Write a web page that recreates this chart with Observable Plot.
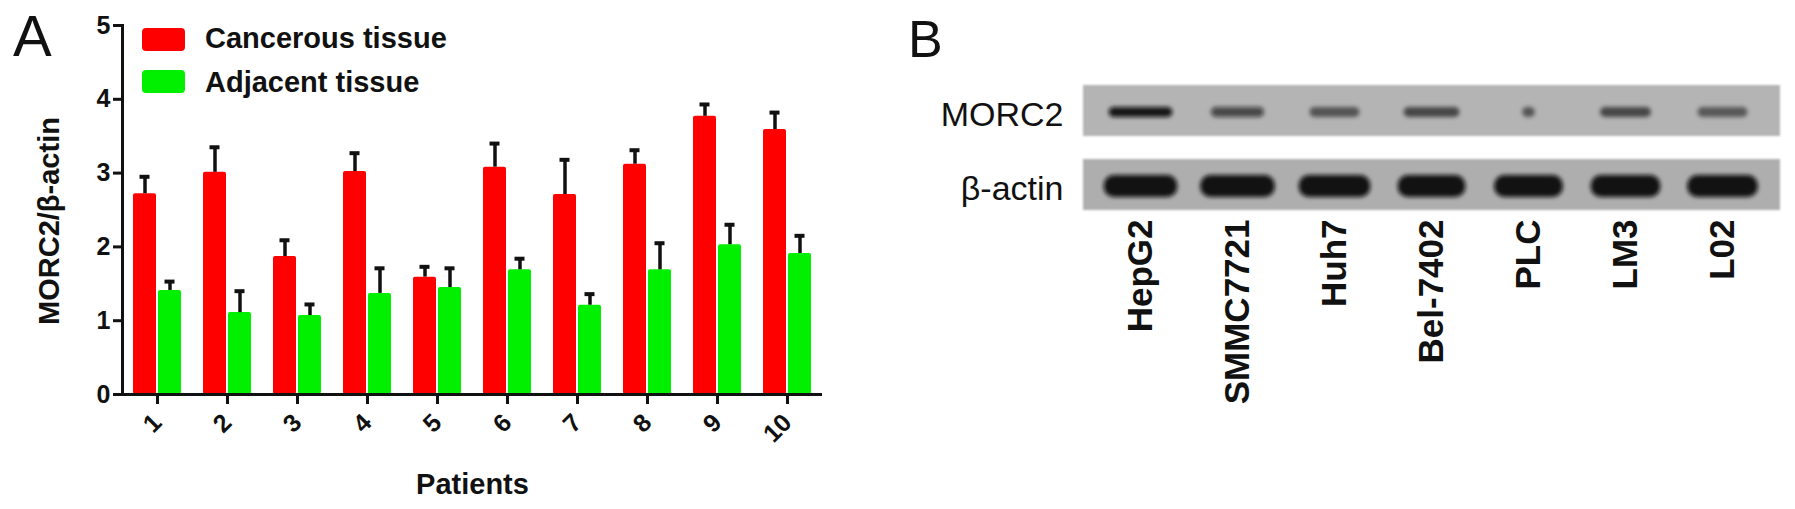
<!DOCTYPE html>
<html>
<head>
<meta charset="utf-8">
<script src="https://cdn.jsdelivr.net/npm/d3@7"></script>
<script src="https://cdn.jsdelivr.net/npm/@observablehq/plot@0.6"></script>
<style>
  html, body { margin: 0; padding: 0; background: #ffffff; }
  #wrap { position: relative; width: 1795px; height: 509px; overflow: hidden; background: #ffffff;
          font-family: "Liberation Sans", Arial, sans-serif; color: #111; }
  .panel { position: absolute; top: 0; }
  .abs { position: absolute; line-height: 1; white-space: nowrap; }
  .swatch { position: absolute; width: 43px; height: 23px; border-radius: 4px; }
</style>
</head>
<body>
<div id="wrap"></div>
<script>
// ---------------- Panel A data ----------------
const patients = ["1", "2", "3", "4", "5", "6", "7", "8", "9", "10"];
const cancerous    = [2.72, 3.01, 1.87, 3.02, 1.59, 3.08, 2.71, 3.12, 3.77, 3.59];
const cancerousErr = [0.23, 0.34, 0.22, 0.25, 0.14, 0.32, 0.47, 0.19, 0.16, 0.23];
const adjacent     = [1.41, 1.11, 1.07, 1.37, 1.45, 1.69, 1.21, 1.69, 2.03, 1.91];
const adjacentErr  = [0.12, 0.29, 0.15, 0.34, 0.26, 0.15, 0.15, 0.36, 0.27, 0.24];
const seriesNames  = ["Cancerous tissue", "Adjacent tissue"];
const yTicks       = [0, 1, 2, 3, 4, 5];
const yLabel       = "MORC2/β-actin";
const xLabel       = "Patients";

// ---------------- Panel B data ----------------
const cellLines    = ["HepG2", "SMMC7721", "Huh7", "Bel-7402", "PLC", "LM3", "L02"];
const proteins     = ["MORC2", "β-actin"];
const morc2Signal  = [1.00, 0.62, 0.45, 0.55, 0.45, 0.55, 0.42];   // relative band darkness
const morc2Extent  = [0.66, 0.55, 0.52, 0.58, 0.14, 0.53, 0.52];   // band extent (fraction of lane)
const actinSignal  = [1.00, 1.00, 1.00, 1.00, 1.00, 1.00, 1.00];
const actinExtent  = [0.76, 0.77, 0.74, 0.70, 0.71, 0.72, 0.73];

const colors = { cancer: "#ff0000", adjacent: "#00f000", ink: "#111111" };
const FONT = "Liberation Sans, Arial, sans-serif";

const wrap = document.getElementById("wrap");

// ---------------- Panel A ----------------
const rows = patients.map((p, i) => ({
  patient: p,
  cancer: cancerous[i], cancerErr: cancerousErr[i],
  adj: adjacent[i], adjErr: adjacentErr[i]
}));

const plotA = Plot.plot({
  width: 880, height: 509,
  marginLeft: 122, marginRight: 58, marginTop: 25, marginBottom: 115,
  style: { fontFamily: FONT, color: colors.ink, background: "transparent", overflow: "visible" },
  x: { domain: patients, padding: 0, axis: null },
  y: { domain: [0, 5], axis: null },
  marks: [
    Plot.barY(rows, { x: "patient", y: "cancer", fill: colors.cancer, insetLeft: 11, insetRight: 36, rx: 2 }),
    Plot.barY(rows, { x: "patient", y: "adj", fill: colors.adjacent, insetLeft: 36, insetRight: 11, rx: 2 }),
    Plot.ruleX(rows, { x: "patient", y1: "cancer", y2: d => d.cancer + d.cancerErr, dx: -12.5, stroke: colors.ink, strokeWidth: 3.5 }),
    Plot.ruleX(rows, { x: "patient", y1: "adj", y2: d => d.adj + d.adjErr, dx: 12.5, stroke: colors.ink, strokeWidth: 3.5 }),
    Plot.tickY(rows, { x: "patient", y: d => d.cancer + d.cancerErr, insetLeft: 17.5, insetRight: 42.5, stroke: colors.ink, strokeWidth: 4 }),
    Plot.tickY(rows, { x: "patient", y: d => d.adj + d.adjErr, insetLeft: 42.5, insetRight: 17.5, stroke: colors.ink, strokeWidth: 4 }),
    Plot.ruleY([0], { stroke: colors.ink, strokeWidth: 3 }),
    Plot.frame({ anchor: "left", stroke: colors.ink, strokeWidth: 3 }),
    Plot.axisY({ ticks: yTicks, tickFormat: d => String(d), tickSize: 9, tickPadding: 3, fontSize: 25, fontWeight: "bold", strokeWidth: 3, label: null }),
    Plot.axisX({ tickSize: 10, tickRotate: -45, tickPadding: 14, textAnchor: "end", lineAnchor: "middle",
                 fontSize: 25, fontWeight: "bold", strokeWidth: 3, label: null }),
    Plot.text([yLabel], { text: d => d, frameAnchor: "left", textAnchor: "middle", lineAnchor: "middle", rotate: -90, dx: -73, dy: 11, fontSize: 29, fontWeight: "bold" }),
    Plot.text([xLabel], { text: d => d, frameAnchor: "bottom", textAnchor: "middle", dy: 99, fontSize: 29, fontWeight: "bold" })
  ]
});
plotA.classList.add("panel");
plotA.style.left = "0px";
wrap.appendChild(plotA);

// legend (HTML overlay)
const legendColors = [colors.cancer, colors.adjacent];
seriesNames.forEach((name, i) => {
  const sw = document.createElement("div");
  sw.className = "swatch";
  sw.style.left = "142px";
  sw.style.top = (28 + i * 42) + "px";
  sw.style.background = legendColors[i];
  wrap.appendChild(sw);
  const t = document.createElement("div");
  t.className = "abs";
  t.textContent = name;
  t.style.left = "205px";
  t.style.top = (24 + i * 44) + "px";
  t.style.fontSize = "29px";
  t.style.fontWeight = "bold";
  wrap.appendChild(t);
});

// ---------------- Panel B ----------------
const lanes = cellLines.flatMap((c, i) => [
  { line: c, protein: proteins[0], signal: morc2Signal[i], extent: morc2Extent[i] },
  { line: c, protein: proteins[1], signal: actinSignal[i], extent: actinExtent[i] }
]);
const LANE = 98; // lane step in px (from the x scale setup below)

const bandMarks = lanes.map(d => {
  const isMorc = d.protein === proteins[0];
  const side = LANE * (1 - d.extent) / 2;
  return Plot.cell([d], {
    x: "line", y: "protein",
    fill: "#0a0a0a",
    fillOpacity: isMorc ? 0.2 + 0.75 * d.signal : 0.97,
    insetLeft: side, insetRight: side,
    insetTop: isMorc ? 21 : 15, insetBottom: isMorc ? 20 : 14,
    rx: isMorc ? 5 : 10,
    dy: 1,
    ariaDescription: "band"
  });
});

const plotB = Plot.plot({
  width: 915, height: 509,
  marginLeft: 200, marginRight: 12, marginTop: 85, marginBottom: 299,
  style: { fontFamily: FONT, color: colors.ink, background: "transparent", overflow: "visible" },
  x: { domain: cellLines, paddingInner: 0, paddingOuter: 0.087, axis: null },
  y: { domain: proteins, paddingInner: 0.311, paddingOuter: 0, axis: null },
  marks: [
    Plot.cell(lanes.filter(d => d.protein === proteins[0]), { x: "line", y: "protein", fill: "#b4b4b4", insetLeft: -9, insetRight: -9, ariaDescription: "membrane" }),
    Plot.cell(lanes.filter(d => d.protein === proteins[1]), { x: "line", y: "protein", fill: "#aeaeae", insetLeft: -9, insetRight: -9, ariaDescription: "membrane" }),
    ...bandMarks,
    Plot.axisY({ anchor: "left", tickSize: 0, tickPadding: 17, dy: 4, fontSize: 34, label: null }),
    Plot.text(cellLines, { x: d => d, text: d => d, frameAnchor: "bottom", rotate: -90, textAnchor: "end", lineAnchor: "middle",
                           dy: 9, fontSize: 35, fontWeight: "bold" })
  ]
});
plotB.classList.add("panel");
plotB.style.left = "880px";
wrap.appendChild(plotB);

// soft edges for blot bands (SVG filter)
const svgB = d3.select(plotB);
const defs = svgB.insert("defs", ":first-child");
defs.append("filter").attr("id", "softBand").attr("x", "-30%").attr("y", "-100%").attr("width", "160%").attr("height", "300%")
  .append("feGaussianBlur").attr("stdDeviation", 2);
defs.append("filter").attr("id", "softEdge").attr("x", "-5%").attr("y", "-20%").attr("width", "110%").attr("height", "140%")
  .append("feGaussianBlur").attr("stdDeviation", 0.8);
svgB.selectAll("g[aria-description=band]").attr("filter", "url(#softBand)");
svgB.selectAll("g[aria-description=membrane]").attr("filter", "url(#softEdge)");

// panel letters
[["A", 13, 7, 58], ["B", 908, 13, 52]].forEach(([s, x, y, fs]) => {
  const t = document.createElement("div");
  t.className = "abs";
  t.textContent = s;
  t.style.left = x + "px";
  t.style.top = y + "px";
  t.style.fontSize = fs + "px";
  wrap.appendChild(t);
});
</script>
</body>
</html>
